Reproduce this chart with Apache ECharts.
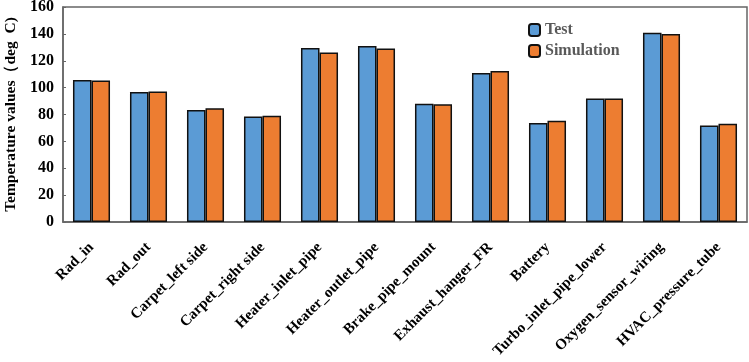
<!DOCTYPE html>
<html>
<head>
<meta charset="utf-8">
<script src="https://cdn.jsdelivr.net/npm/echarts@6/dist/echarts.min.js"></script>
<style>
  html, body { margin: 0; padding: 0; background: #fff; }
  #main { width: 749px; height: 362px; }
</style>
</head>
<body>
<div id="main"></div>
<script>
var categories = ['Rad_in', 'Rad_out', 'Carpet_left side', 'Carpet_right side', 'Heater_inlet_pipe',
    'Heater_outlet_pipe', 'Brake_pipe_mount', 'Exhaust_hanger_FR', 'Battery',
    'Turbo_inlet_pipe_lower', 'Oxygen_sensor_wiring', 'HVAC_pressure_tube'];
var testValues = [105.6, 96.7, 83.3, 78.6, 129.5, 131, 88, 110.9, 73.7, 92, 140.9, 71.9];
var simValues = [105.3, 97.1, 84.6, 79.1, 126.2, 129.2, 87.6, 112.4, 75.4, 92, 139.9, 73.1];
var yTicks = [0, 160, 20];

var dom = document.getElementById('main');
var myChart = echarts.init(dom);
var serif = '"Liberation Serif", "Times New Roman", serif';

var option = {
    animation: false,
    legend: {
        left: 523,
        top: 16,
        orient: 'vertical',
        itemWidth: 11,
        itemHeight: 12,
        itemGap: 3,
        textStyle: { fontFamily: serif, fontWeight: 'bold', fontSize: 16, lineHeight: 18, color: '#595959' },
        data: ['Test', 'Simulation']
    },
    grid: {
        left: 63, right: 2, top: 7, bottom: 140,
        outerBoundsMode: 'none',
        show: true, borderColor: '#666', borderWidth: 1.5
    },
    xAxis: {
        type: 'category',
        data: categories,
        axisLine: { lineStyle: { color: '#666', width: 1.5 } },
        axisTick: { show: false },
        axisLabel: {
            rotate: 45,
            interval: 0,
            margin: 23,
            fontFamily: serif,
            fontWeight: 'bold',
            fontSize: 15,
            color: '#000'
        }
    },
    yAxis: {
        type: 'value',
        min: yTicks[0],
        max: yTicks[1],
        interval: yTicks[2],
        name: 'Temperature values（deg  C)',
        nameLocation: 'middle',
        nameGap: 37,
        nameTextStyle: { fontFamily: serif, fontWeight: 'bold', fontSize: 15.5, color: '#000' },
        splitLine: { show: false },
        axisLine: { show: true, lineStyle: { color: '#666', width: 1.5 } },
        axisTick: { show: true, inside: true, length: 3, lineStyle: { color: '#666' } },
        axisLabel: { fontFamily: serif, fontWeight: 'bold', fontSize: 16, color: '#000', margin: 9 }
    },
    series: [
        {
            name: 'Test',
            type: 'bar',
            data: testValues,
            barGap: '0%',
            barCategoryGap: '35%',
            itemStyle: { color: '#5B9BD5', borderColor: '#111', borderWidth: 1.5 }
        },
        {
            name: 'Simulation',
            type: 'bar',
            data: simValues,
            itemStyle: { color: '#ED7D31', borderColor: '#111', borderWidth: 1.5 }
        }
    ]
};

if (option && typeof option === 'object') {
    myChart.setOption(option);
}
</script>
</body>
</html>
